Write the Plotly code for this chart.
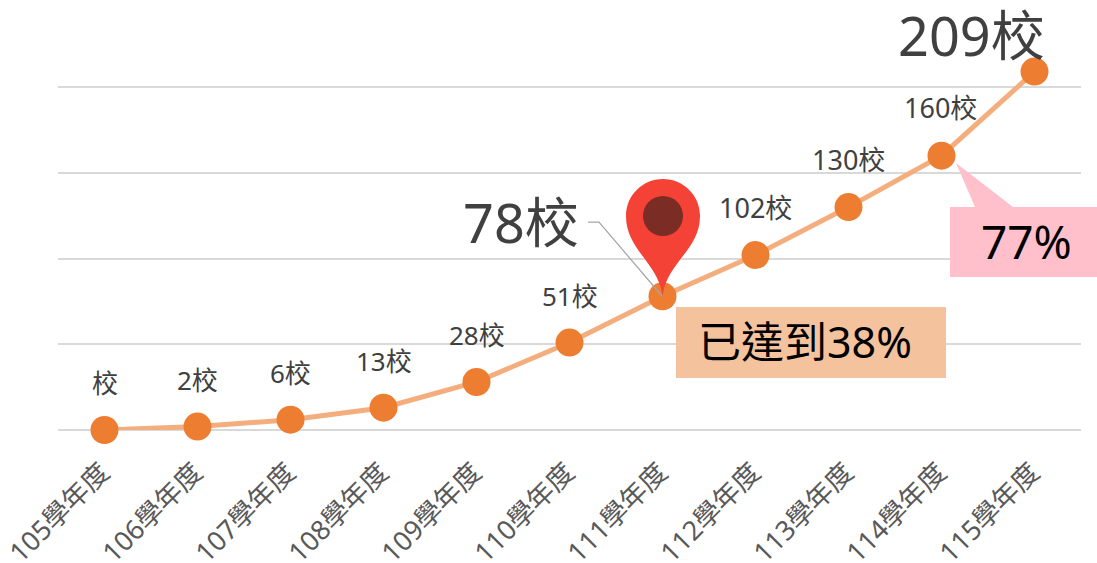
import plotly.graph_objects as go

W, H = 1097, 563
years = ["105學年度", "106學年度", "107學年度", "108學年度", "109學年度", "110學年度",
         "111學年度", "112學年度", "113學年度", "114學年度", "115學年度"]
schools = [0, 2, 6, 13, 28, 51, 78, 102, 130, 160, 209]
labels = ["校", "2校", "6校", "13校", "28校", "51校", "78校", "102校", "130校", "160校", "209校"]
label_sizes = [26, 26, 26, 26, 26, 26, 54, 27, 27, 27, 54]
label_dx = [0, 0, 0, 0, 0, 0, -142, 0, 0, -1, -63]
label_dy = [47, 47, 47, 47, 47, 47, 74, 48, 48, 48, 37]

ML, MR, MT, MB = 58, 16, 2, 133
FONT = "Noto Sans, Noto Sans CJK TC, sans-serif"


def px(x):
    return (x - ML) / (W - ML - MR)


def py(y):
    return 1 - (y - MT) / (H - MT - MB)


def path(points):
    return "M" + " L".join(f"{px(a):.5f},{py(b):.5f}" for a, b in points) + " Z"


fig = go.Figure(go.Scatter(
    x=years, y=schools, mode="lines+markers", cliponaxis=False,
    line=dict(color="#F4AE7E", width=5),
    marker=dict(color="#ED7D31", size=28, line=dict(width=0)),
    hoverinfo="skip",
))

annotations = [
    dict(x=c, y=v, xref="x", yref="y", text=t, showarrow=False, xshift=dx, yshift=dy,
         font=dict(family=FONT, size=s, color="#404040"))
    for c, v, t, s, dx, dy in zip(years, schools, labels, label_sizes, label_dx, label_dy)
]
annotations += [
    dict(x=px(805), y=py(341), xref="paper", yref="paper", text="已達到38%", showarrow=False,
         xanchor="center", yanchor="middle",
         font=dict(family=FONT, size=43, color="#000000")),
    dict(x=px(1026), y=py(241), xref="paper", yref="paper", text="77%", showarrow=False,
         xanchor="center", yanchor="middle",
         font=dict(family=FONT, size=46, color="#000000")),
]

base = dict(xref="paper", yref="paper", layer="above")
pin = ("M{},{} C{},{} {},{} {},{} C{},{} {},{} {},{} C{},{} {},{} {},{} C{},{} {},{} {},{} Z").format(
    *[f"{v:.5f}" for p in [
        (662.5, 296), (658, 262), (626, 250), (626, 216), (626, 195), (643, 179), (663, 179),
        (683, 179), (700, 195), (700, 216), (700, 250), (667, 262), (662.5, 296)
    ] for v in (px(p[0]), py(p[1]))]
)
shapes = [
    dict(type="rect", x0=px(676), x1=px(946), y0=py(378), y1=py(307), fillcolor="#F4C39E", line_width=0, **base),
    dict(type="path", path=path([(956, 163), (975, 207), (950, 207), (950, 277), (1097, 277),
                                 (1097, 207), (1013, 207)]),
         fillcolor="#FFC0CB", line_width=0, **base),
    dict(type="path", path=pin, fillcolor="#F44336", line_width=0, **base),
    dict(type="circle", x0=px(643), x1=px(683), y0=py(236), y1=py(196), fillcolor="#7B2C24", line_width=0, **base),
    dict(type="path",
         path=f"M{px(588):.5f},{py(222):.5f} L{px(599):.5f},{py(222):.5f} L{px(662):.5f},{py(296):.5f}",
         line=dict(color="#A6A6A6", width=1.25), **base),
]

fig.update_layout(
    width=W, height=H, autosize=False,
    margin=dict(l=ML, r=MR, t=MT, b=MB, autoexpand=False),
    paper_bgcolor="#FFFFFF", plot_bgcolor="#FFFFFF",
    showlegend=False, annotations=annotations, shapes=shapes,
    font=dict(family=FONT),
    xaxis=dict(type="category", range=[-0.5, 10.5], showgrid=False, zeroline=False, showline=False,
               automargin=False,
               ticks="", tickangle=-45, ticklabelstandoff=20, ticklabelshift=-3,
               tickfont=dict(family=FONT, size=27, color="#595959")),
    yaxis=dict(range=[0, 249.6], dtick=50, showticklabels=False, ticks="", automargin=False,
               showgrid=True, gridcolor="#D9D9D9", gridwidth=2,
               zeroline=True, zerolinecolor="#D9D9D9", zerolinewidth=2, showline=False),
)
fig.write_html("out.html", config={"displayModeBar": False},
               post_script="document.body.style.margin='0';document.body.style.overflow='hidden';")
